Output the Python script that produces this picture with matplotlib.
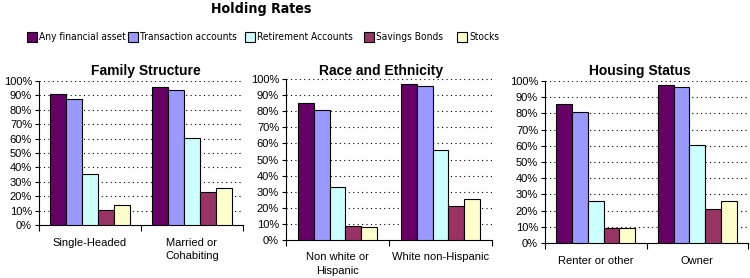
import matplotlib.pyplot as plt
from matplotlib.patches import Patch
from matplotlib.ticker import PercentFormatter
from matplotlib import font_manager

plt.rcParams['font.family'] = ['Liberation Sans', 'DejaVu Sans']

# Datos
SERIES = ["Any financial asset", "Transaction accounts", "Retirement Accounts",
          "Savings Bonds", "Stocks"]
COLORS = ['#660066', '#9999FF', '#CCFFFF', '#993366', '#FFFFCC']

family_cats = ["Single-Headed", "Married or\nCohabiting"]
family_vals = [[0.91, 0.96], [0.875, 0.935], [0.355, 0.605], [0.105, 0.23], [0.14, 0.26]]

race_cats = ["Non white or\nHispanic", "White non-Hispanic"]
race_vals = [[0.85, 0.97], [0.805, 0.957], [0.33, 0.56], [0.088, 0.213], [0.08, 0.256]]

housing_cats = ["Renter or other", "Owner"]
housing_vals = [[0.86, 0.977], [0.81, 0.965], [0.26, 0.605], [0.095, 0.212], [0.095, 0.26]]

# fuente estrecha (si hay alguna) para leyenda y título general
narrow_reg = narrow_bold = None
for f in font_manager.fontManager.ttflist:
    fn = f.fname.lower()
    if ('narrow' in fn or 'condensed' in fn) and 'sans' in fn and 'mono' not in fn \
            and 'oblique' not in fn and 'italic' not in fn:
        if 'bold' in fn:
            narrow_bold = narrow_bold or f.fname
        else:
            narrow_reg = narrow_reg or f.fname

if narrow_reg:
    LEG_PROP = font_manager.FontProperties(fname=narrow_reg, size=7.3)
else:
    LEG_PROP = font_manager.FontProperties(family='Liberation Sans', size=6.8)
if narrow_bold:
    TITLE_PROP = font_manager.FontProperties(fname=narrow_bold, size=10.2)
else:
    TITLE_PROP = font_manager.FontProperties(family='Liberation Sans', weight='bold', size=9.5)

W, H = 750, 278
fig = plt.figure(figsize=(7.5, 2.78), dpi=100)


def px_axes(x0, y_top, x1, y_bot):
    return fig.add_axes([x0 / W, 1 - y_bot / H, (x1 - x0) / W, (y_bot - y_top) / H])


def panel(ax, cats, vals, title, title_x):
    bw = 0.155
    for i, serie in enumerate(vals):
        xs = [j + (i - 2) * bw for j in range(len(cats))]
        ax.bar(xs, serie, width=bw, color=COLORS[i], edgecolor='black',
               linewidth=0.8, zorder=3)
    ax.set_xlim(-0.5, len(cats) - 0.5)
    ax.set_ylim(0, 1)
    ax.set_yticks([k / 10 for k in range(11)])
    ax.yaxis.set_major_formatter(PercentFormatter(1.0, decimals=0))
    ax.tick_params(axis='y', length=3, width=0.8, labelsize=8, pad=2)
    # marcas entre categorías, etiquetas centradas
    ax.set_xticks([j - 0.5 for j in range(len(cats) + 1)])
    ax.set_xticklabels([])
    ax.set_xticks(range(len(cats)), minor=True)
    ax.set_xticklabels(cats, minor=True, fontsize=8)
    ax.tick_params(axis='x', which='major', length=4, width=0.8)
    ax.tick_params(axis='x', which='minor', length=0, pad=9)
    for t in ax.get_xticklabels(minor=True):
        t.set_verticalalignment('top')
        t.set_linespacing(1.45)
    for yv in [k / 10 for k in range(1, 11)]:
        ax.axhline(yv, color='black', linestyle=(0, (1, 3)), linewidth=0.8, zorder=1)
    ax.spines['top'].set_visible(False)
    ax.spines['right'].set_visible(False)
    ax.spines['left'].set_linewidth(0.8)
    ax.spines['bottom'].set_linewidth(0.8)
    fig.text(title_x / W, 1 - 71 / H, title, ha='center', va='center',
             fontsize=10, fontweight='bold')


ax1 = px_axes(39, 81, 243, 225)
panel(ax1, family_cats, family_vals, "Family Structure", 146)
ax2 = px_axes(286, 79, 492, 240)
panel(ax2, race_cats, race_vals, "Race and Ethnicity", 381)
ax3 = px_axes(545, 81, 748, 243)
panel(ax3, housing_cats, housing_vals, "Housing Status", 640)

fig.text(261 / W, 1 - 9 / H, "Holding Rates", ha='center', va='center',
         fontproperties=TITLE_PROP)

# Leyenda, un elemento por posición
legend_x = [27, 128, 245, 364, 457]
for name, color, lx in zip(SERIES, COLORS, legend_x):
    fig.legend(handles=[Patch(facecolor=color, edgecolor='black', linewidth=0.8)],
               labels=[name], loc='center left', bbox_to_anchor=(lx / W, 1 - 37 / H),
               frameon=False, prop=LEG_PROP,
               handlelength=0.95, handleheight=1.1,
               handletextpad=0.25, borderpad=0, borderaxespad=0)

plt.savefig("out.png", dpi=100)
